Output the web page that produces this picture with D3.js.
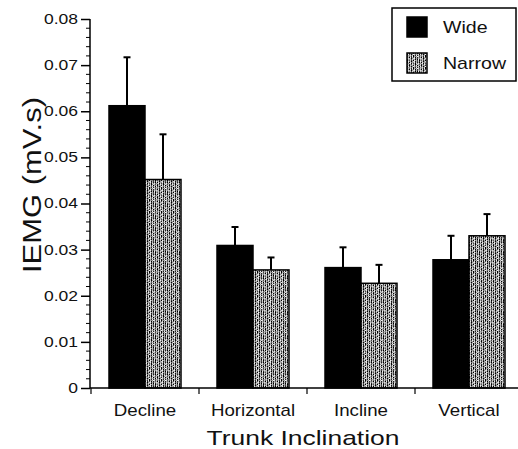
<!DOCTYPE html>
<html><head><meta charset="utf-8">
<script src="https://cdn.jsdelivr.net/npm/d3@7"></script>
<style>body{margin:0;background:#fff}svg{display:block}text{font-family:"Liberation Sans",Arial,sans-serif;fill:#111}</style>
</head><body>
<svg id="c" width="518" height="449"></svg>
<script>
const categories = ["Decline","Horizontal","Incline","Vertical"];
const series = ["Wide","Narrow"];
const wide = [0.0612, 0.0309, 0.0261, 0.0278];
const wideErr = [0.0105, 0.0040, 0.0044, 0.0052];
const narrow = [0.0452, 0.0256, 0.0227, 0.0330];
const narrowErr = [0.0098, 0.0027, 0.0040, 0.0047];
const yTicks = [0, 0.01, 0.02, 0.03, 0.04, 0.05, 0.06, 0.07, 0.08];
const yTickLabels = ["0","0.01","0.02","0.03","0.04","0.05","0.06","0.07","0.08"];

const svg = d3.select("#c");
const defs = svg.append("defs");
// stipple texture tile (fixed grey levels)
const tex = [
  "a5c3a0e9b4d0",
  "e8b09cd1a4c2",
  "c0d7a8e3b2a0",
  "9ae0c4b0d8e6",
  "d2a4e8c09cb4",
  "b0c8a2d4e0a8",
  "e4a09ec6b8d0",
  "a8d6c0a2e2b6",
  "c6b2e0a89ed4",
  "a0e2b4d0c2a6",
  "dab09ce4a4c8",
  "b8c4d8a0b0e2"];
const T = tex.length;
const pat = defs.append("pattern").attr("id","stip").attr("patternUnits","userSpaceOnUse")
  .attr("width",T).attr("height",T);
tex.forEach((row,ry)=>{
  for(let k=0;k<T;k++){
    const h = row.substr(k,1);
    const lv = parseInt(h,16)*16+parseInt(h,16);
    pat.append("rect").attr("x",k).attr("y",ry).attr("width",1).attr("height",1)
      .attr("fill",`rgb(${lv},${lv},${lv})`);
  }
});

const y = d3.scaleLinear().domain([0,0.08]).range([388,19]);
const x0 = d3.scaleBand().domain(categories).range([91,523]).paddingInner(0).paddingOuter(0);
const x1 = d3.scaleBand().domain(series).range([0,x0.bandwidth()]).paddingInner(0).paddingOuter(0.5);

const data = categories.map((c,i)=>({c, vals:[
  {s:"Wide", v:wide[i], e:wideErr[i]},
  {s:"Narrow", v:narrow[i], e:narrowErr[i]}]}));

const g = svg.append("g");
data.forEach(d=>{
  d.vals.forEach(b=>{
    const bx = x0(d.c)+x1(b.s), bw = x1.bandwidth();
    g.append("line").attr("x1",bx+bw/2).attr("x2",bx+bw/2).attr("y1",y(b.v)).attr("y2",y(b.v+b.e))
      .attr("stroke","#000").attr("stroke-width",2);
    g.append("line").attr("x1",bx+bw/2-3.5).attr("x2",bx+bw/2+3.5).attr("y1",y(b.v+b.e)).attr("y2",y(b.v+b.e))
      .attr("stroke","#000").attr("stroke-width",2);
    g.append("rect").attr("x",bx).attr("y",y(b.v)).attr("width",bw).attr("height",y(0)-y(b.v))
      .attr("fill", b.s==="Wide" ? "#000" : "url(#stip)")
      .attr("stroke","#000").attr("stroke-width",1.5);
  });
});

function stretch(sel, f){
  sel.each(function(){
    const L = this.getComputedTextLength();
    d3.select(this).attr("textLength", L*f).attr("lengthAdjust","spacingAndGlyphs");
  });
}

// y axis
const yAxis = d3.axisLeft(y).tickValues(yTicks).tickFormat((d,i)=>yTickLabels[i]).tickSize(9).tickPadding(3);
const ya = svg.append("g").attr("transform","translate(90,0)").call(yAxis);
ya.select(".domain").attr("stroke-width",1.5).attr("d","M0,19V388");
ya.selectAll(".tick line").attr("stroke-width",1.5);
ya.selectAll(".tick text").attr("font-size",14).attr("font-family","Liberation Sans, Arial, sans-serif")
  .attr("fill","#111");
stretch(ya.selectAll(".tick text"), 1.25);
const minor = d3.range(0,0.0801,0.002).filter(v=>Math.abs(v*100-Math.round(v*100))>1e-6);
svg.append("g").selectAll("line").data(minor).join("line")
  .attr("x1",86).attr("x2",90).attr("y1",d=>y(d)).attr("y2",d=>y(d))
  .attr("stroke","#000").attr("stroke-width",1);

// x axis
svg.append("line").attr("x1",90).attr("x2",518).attr("y1",388).attr("y2",388)
  .attr("stroke","#000").attr("stroke-width",1.5);
svg.append("g").selectAll("line").data(categories).join("line")
  .attr("x1",d=>x0(d)).attr("x2",d=>x0(d)).attr("y1",388).attr("y2",394)
  .attr("stroke","#000").attr("stroke-width",1.2);
const xl = svg.append("g").selectAll("text").data(categories).join("text")
  .attr("x",d=>x0(d)+x0.bandwidth()/2).attr("y",416).attr("text-anchor","middle")
  .attr("font-size",17).text(d=>d);
stretch(xl, 1.1);

// titles
svg.append("text").attr("x",303).attr("y",445).attr("text-anchor","middle")
  .attr("font-size",21).attr("textLength",193).attr("lengthAdjust","spacingAndGlyphs").text("Trunk Inclination");
svg.append("text").attr("transform","translate(41,185) rotate(-90)").attr("text-anchor","middle")
  .attr("font-size",25).attr("textLength",176).attr("lengthAdjust","spacingAndGlyphs").text("IEMG (mV.s)");

// legend
svg.append("rect").attr("x",392).attr("y",8).attr("width",124).attr("height",73)
  .attr("fill","#fff").attr("stroke","#000").attr("stroke-width",1.5);
const leg = [{s:"Wide", fill:"#000", y:17},{s:"Narrow", fill:"url(#stip)", y:53}];
leg.forEach(l=>{
  svg.append("rect").attr("x",407).attr("y",l.y).attr("width",20).attr("height",20)
    .attr("fill",l.fill).attr("stroke","#000").attr("stroke-width",1.5);
  const t = svg.append("text").attr("x",443).attr("y",l.y+16).attr("font-size",17).text(l.s);
  stretch(t, 1.15);
});
</script>
</body></html>
